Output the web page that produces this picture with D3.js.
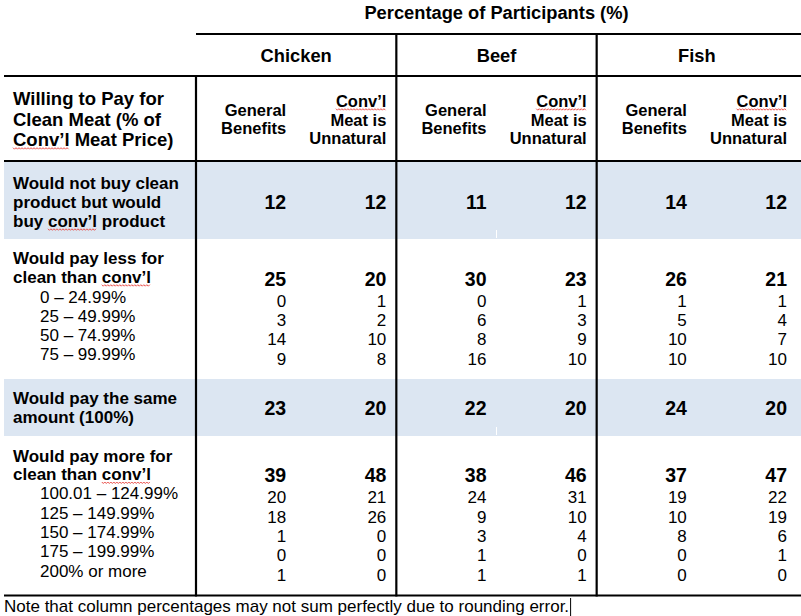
<!DOCTYPE html>
<html><head><meta charset="utf-8">
<script src="https://cdn.jsdelivr.net/npm/d3@7"></script>
<style>
html,body{margin:0;padding:0;background:#fff;}
text{font-family:"Liberation Sans",Arial,sans-serif;fill:#000;}
</style></head>
<body>
<svg id="chart" width="801" height="616"></svg>
<script>
// ---- data ----
const title = "Percentage of Participants (%)";
const meats = ["Chicken", "Beef", "Fish"];
const framings = [["General", "Benefits"], ["Conv’l", "Meat is", "Unnatural"]];
const columns = ["Chicken-GB", "Chicken-CU", "Beef-GB", "Beef-CU", "Fish-GB", "Fish-CU"];
const stubHeader = ["Willing to Pay for", "Clean Meat (% of", "Conv’l Meat Price)"];

const wouldNotBuyLabel = ["Would not buy clean", "product but would", "buy conv’l product"];
const wouldNotBuy = [12, 12, 11, 12, 14, 12];

const payLessLabel = ["Would pay less for", "clean than conv’l"];
const payLess = [25, 20, 30, 23, 26, 21];
const payLessRanges = ["0 – 24.99%", "25 – 49.99%", "50 – 74.99%", "75 – 99.99%"];
const payLess0to25 = [0, 1, 0, 1, 1, 1];
const payLess25to50 = [3, 2, 6, 3, 5, 4];
const payLess50to75 = [14, 10, 8, 9, 10, 7];
const payLess75to100 = [9, 8, 16, 10, 10, 10];

const paySameLabel = ["Would pay the same", "amount (100%)"];
const paySame = [23, 20, 22, 20, 24, 20];

const payMoreLabel = ["Would pay more for", "clean than conv’l"];
const payMore = [39, 48, 38, 46, 37, 47];
const payMoreRanges = ["100.01 – 124.99%", "125 – 149.99%", "150 – 174.99%", "175 – 199.99%", "200% or more"];
const payMore100to125 = [20, 21, 24, 31, 19, 22];
const payMore125to150 = [18, 26, 9, 10, 10, 19];
const payMore150to175 = [1, 0, 3, 4, 8, 6];
const payMore175to200 = [0, 0, 1, 0, 0, 1];
const payMore200plus = [1, 0, 1, 1, 0, 0];

const note = "Note that column percentages may not sum perfectly due to rounding error.";

// ---- layout ----
const svg = d3.select("#chart");
const W = 801;
const left = 4, tableLeft = 196, tableRight = 797;
const xCol = d3.scaleBand().domain(columns).range([tableLeft, tableRight]);
const xMeat = d3.scaleBand().domain(meats).range([tableLeft, tableRight]);
const colRight = c => xCol(c) + xCol.bandwidth() - 10;
const shade = "#dce6f2";

// shaded bands
const bands = [[162, 239], [379, 436]];
svg.selectAll("rect.band").data(bands).join("rect")
  .attr("x", left).attr("width", W - left)
  .attr("y", d => d[0]).attr("height", d => d[1] - d[0])
  .attr("fill", shade);

const rulesG = svg.append("g");
function hline(x1, x2, y) { rulesG.append("line").attr("x1", x1).attr("x2", x2).attr("y1", y).attr("y2", y).attr("stroke", "#000").attr("stroke-width", 2.2); }
function vline(x, y1, y2) { rulesG.append("line").attr("x1", x).attr("x2", x).attr("y1", y1).attr("y2", y2).attr("stroke", "#000").attr("stroke-width", 2.2); }

// title
svg.append("text").attr("x", (tableLeft + tableRight) / 2).attr("y", 19)
  .attr("text-anchor", "middle").attr("font-weight", "bold").attr("font-size", 18.3).text(title);

// meat headers
svg.selectAll("text.meat").data(meats).join("text")
  .attr("x", d => xMeat(d) + xMeat.bandwidth() / 2).attr("y", 62)
  .attr("text-anchor", "middle").attr("font-weight", "bold").attr("font-size", 18.3).text(d => d);

// stub header
const squiggleTargets = [];
function multiline(lines, x, y0, dy, opts) {
  lines.forEach((t, i) => {
    const el = svg.append("text").attr("x", x).attr("y", y0 + i * dy)
      .attr("font-size", opts.size).attr("font-weight", opts.bold ? "bold" : "normal")
      .attr("text-anchor", opts.anchor || "start").text(t);
    const m = t.match(/[Cc]onv’l/);
    if (m) squiggleTargets.push({ el: el.node(), start: m.index, len: m[0].length });
  });
}
multiline(stubHeader, 13, 105, 20.5, { size: 18.5, bold: true });

// sub headers
columns.forEach((c, i) => {
  const f = framings[i % 2];
  if (f.length === 2) multiline(f, colRight(c), 116, 18, { size: 16.5, bold: true, anchor: "end" });
  else multiline(f, colRight(c), 107, 18.5, { size: 16.5, bold: true, anchor: "end" });
});

// rows
function valueRow(vals, y, bold) {
  const g = svg.append("g");
  g.selectAll("text").data(vals).join("text")
    .attr("x", (d, i) => colRight(columns[i])).attr("y", y)
    .attr("text-anchor", "end").attr("font-size", bold ? 19.5 : 17)
    .attr("font-weight", bold ? "bold" : "normal").text(d => d);
}
function subLabels(labels, y0, dy) {
  labels.forEach((t, i) => {
    svg.append("text").attr("x", 40).attr("y", y0 + i * dy).attr("font-size", 17).text(t);
  });
}

multiline(wouldNotBuyLabel, 13, 188.5, 19.3, { size: 17, bold: true });
valueRow(wouldNotBuy, 208.5, true);

multiline(payLessLabel, 13, 263.5, 19.5, { size: 17, bold: true });
valueRow(payLess, 286, true);
subLabels(payLessRanges, 302.5, 19.2);
[payLess0to25, payLess25to50, payLess50to75, payLess75to100].forEach((v, i) => valueRow(v, 306.7 + i * 19.3, false));

multiline(paySameLabel, 13, 404, 19, { size: 17, bold: true });
valueRow(paySame, 414.5, true);

multiline(payMoreLabel, 13, 461.5, 18.8, { size: 17, bold: true });
valueRow(payMore, 481.7, true);
subLabels(payMoreRanges, 499.3, 19.35);
[payMore100to125, payMore125to150, payMore150to175, payMore175to200, payMore200plus]
  .forEach((v, i) => valueRow(v, 503.3 + i * 19.35, false));

// note
svg.append("text").attr("x", 4).attr("y", 611.5).attr("font-size", 17).attr("id", "note").text(note);

// rules
hline(tableLeft, W, 34);
hline(left, W, 76);
hline(left, W, 161);
hline(left, W, 595.5);
vline(tableLeft, 75, 596.5);
meats.slice(1).forEach(m => vline(xMeat(m), 33, 596.5));
svg.append("rect").attr("x", tableLeft + 300).attr("y", 230).attr("width", 1).attr("height", 8).attr("fill", "#fff");
svg.append("rect").attr("x", tableLeft + 300).attr("y", 427).attr("width", 1).attr("height", 8).attr("fill", "#fff");

// text cursor at end of note
const noteNode = document.getElementById("note");
const noteEnd = 4 + noteNode.getComputedTextLength();
svg.append("line").attr("x1", noteEnd + 1.5).attr("x2", noteEnd + 1.5).attr("y1", 598).attr("y2", 616)
  .attr("stroke", "#000").attr("stroke-width", 1);

// red spell-check squiggles
squiggleTargets.forEach(t => {
  const x0 = t.el.getStartPositionOfChar(t.start).x;
  const x1 = t.el.getEndPositionOfChar(t.start + t.len - 1).x;
  const y = +t.el.getAttribute("y") + 2;
  const pts = [];
  for (let x = x0, k = 0; x <= x1; x += 1.5, k++) pts.push([x, y + (k % 2 ? 1.2 : -0.3)]);
  svg.append("path").attr("d", d3.line()(pts)).attr("fill", "none")
    .attr("stroke", "#e8403a").attr("stroke-width", 0.9);
});
</script>
</body></html>
